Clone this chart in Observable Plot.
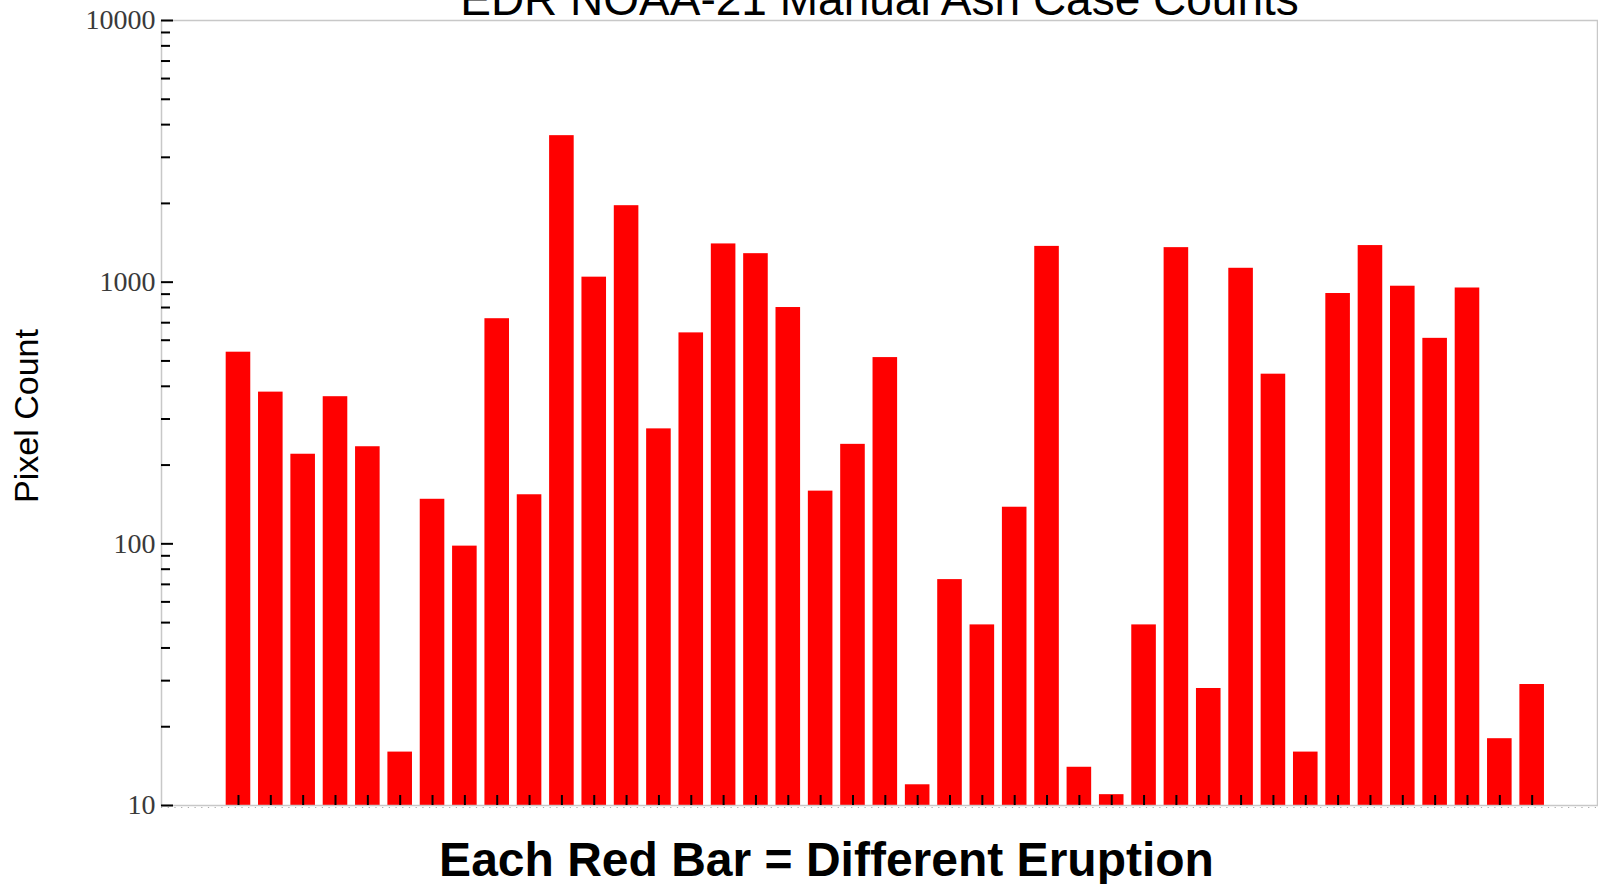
<!DOCTYPE html>
<html>
<head>
<meta charset="utf-8">
<script src="https://cdn.jsdelivr.net/npm/d3@7"></script>
<script src="https://cdn.jsdelivr.net/npm/@observablehq/plot@0.6"></script>
<style>
  html, body { margin: 0; padding: 0; background: #fff; overflow: hidden; }
  #chart svg { display: block; }
</style>
</head>
<body>
<div id="chart"></div>
<script>
// One bar per eruption, in case order
const eruptions = Array.from({length: 41}, (_, i) => i + 1);
const pixelCounts = [
  540, 380, 220, 365, 235, 16, 148, 98, 725, 154,
  3630, 1045, 1960, 275, 640, 1400, 1285, 800, 159, 240,
  515, 12, 73, 49, 138, 1370, 14, 11, 49, 1355,
  28, 1130, 445, 16, 905, 1380, 965, 610, 950, 18,
  29
];

// Log axis ticks
const majorTicks = [10, 100, 1000, 10000];
const majorTickLabels = ["10", "100", "1000", "10000"];
const minorTicks = [2, 3, 4, 5, 6, 7, 8, 9].flatMap(m => [10, 100, 1000].map(d => m * d));

const title = "EDR NOAA-21 Manual Ash Case Counts";
const xLabel = "Each Red Bar = Different Eruption";
const yLabel = "Pixel Count";

const data = eruptions.map((e, i) => ({pos: i, eruption: e, count: pixelCounts[i]}));

const xMin = -2.38, xMax = 42.02;
const halfBar = 0.38;
const spine = "#c8c8c8";

const chart = Plot.plot({
  width: 1598,
  height: 884,
  marginTop: 20,
  marginBottom: 79,
  marginLeft: 161,
  marginRight: 1,
  x: {type: "linear", domain: [xMin, xMax], axis: null},
  y: {type: "log", domain: [10, 10000], axis: null},
  marks: [
    // bars
    Plot.rect(data, {
      x1: d => d.pos - halfBar,
      x2: d => d.pos + halfBar,
      y1: 10,
      y2: "count",
      fill: "#ff0000"
    }),
    // axes box
    Plot.frame({stroke: spine, strokeWidth: 1.5}),
    // minor x ticks along the baseline
    Plot.ruleY([10], {stroke: "#aaa", strokeWidth: 1.2, strokeDasharray: "1.2 5.5", dy: 2}),
    // inward x ticks at each bar
    Plot.ruleX(data, {x: "pos", y1: 10, y2: 10, insetTop: -10, stroke: "#000", strokeWidth: 2}),
    // inward y ticks
    Plot.ruleY(majorTicks, {y: d => d, x1: xMin, x2: xMin, insetRight: -12, stroke: "#000", strokeWidth: 2}),
    Plot.ruleY(minorTicks, {y: d => d, x1: xMin, x2: xMin, insetRight: -9, stroke: "#000", strokeWidth: 2}),
    // y tick labels
    Plot.text(majorTicks, {
      x: xMin, y: d => d, text: (d, i) => majorTickLabels[i],
      textAnchor: "end", dx: -6,
      fontFamily: "Liberation Serif", fontSize: 28, fill: "#3a3a3a"
    }),
    // title
    Plot.text([title], {
      frameAnchor: "top", lineAnchor: "bottom", dy: -6,
      fontFamily: "Liberation Sans", fontSize: 46, fill: "#000"
    }),
    // x label
    Plot.text([xLabel], {
      frameAnchor: "bottom", lineAnchor: "bottom", dy: 70, dx: -53,
      fontFamily: "Liberation Sans", fontWeight: "bold", fontSize: 48, fill: "#000"
    }),
    // y label
    Plot.text([yLabel], {
      frameAnchor: "left", textAnchor: "middle", rotate: -90, dx: -134, dy: 3,
      fontFamily: "Liberation Sans", fontSize: 34, fill: "#000"
    })
  ]
});

document.getElementById("chart").appendChild(chart);
</script>
</body>
</html>
